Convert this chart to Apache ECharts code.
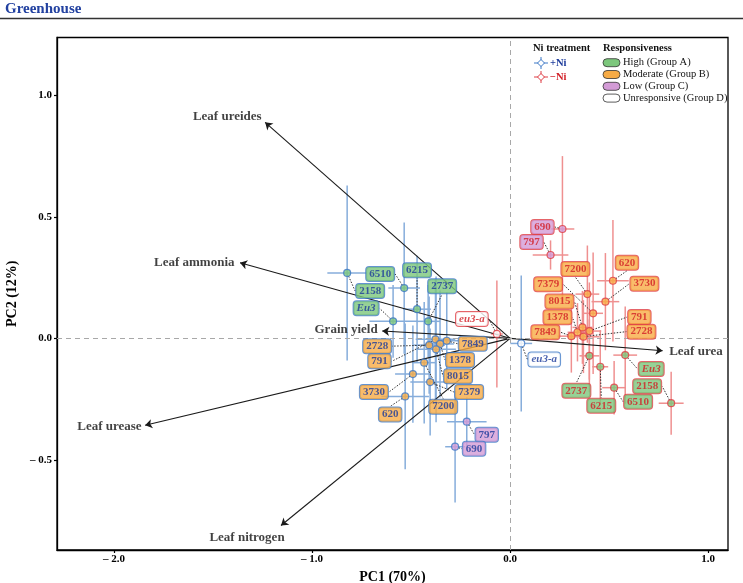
<!DOCTYPE html>
<html><head><meta charset="utf-8">
<script src="https://cdn.jsdelivr.net/npm/echarts@6/dist/echarts.min.js"></script>
<style>html,body{margin:0;padding:0;background:#fff}#c{width:743px;height:583px}</style>
</head><body><div id="c"></div>
<script>
// ---------- data ----------
const genotypes = ['2158','6510','6215','Eu3','2737','2728','791','7849','1378','8015','7379','7200','3730','620','797','690','eu3-a'];
const groups    = ['A','A','A','A','A','B','B','B','B','B','B','B','B','B','C','C','D'];

const pc1PlusNi = [-0.823,-0.535,-0.470,-0.591,-0.414,-0.409,-0.377,-0.320,-0.354,-0.374,-0.404,-0.434,-0.491,-0.530,-0.219,-0.278, 0.056];
const pc2PlusNi = [ 0.269, 0.207, 0.120, 0.070, 0.070,-0.028,-0.004,-0.010,-0.023,-0.045,-0.180,-0.100,-0.147,-0.239,-0.343,-0.446,-0.021];
const errXPlusNi = [0.10,0.08,0.07,0.12,0.06,0.08,0.10,0.06,0.07,0.10,0.10,0.06,0.09,0.12,0.10,0.05,0.055];
const errYPlusNi = [0.36,0.27,0.22,0.15,0.15,0.20,0.25,0.20,0.22,0.30,0.22,0.25,0.20,0.30,0.10,0.23,0.28];

const pc1MinusNi = [ 0.813, 0.525, 0.455, 0.581, 0.400, 0.370, 0.400, 0.309, 0.340, 0.365, 0.419, 0.390, 0.481, 0.519, 0.204, 0.264,-0.067];
const pc2MinusNi = [-0.267,-0.203,-0.117,-0.069,-0.072, 0.007, 0.030, 0.009, 0.025, 0.045, 0.103, 0.182, 0.151, 0.237, 0.343, 0.450, 0.018];
const errXMinusNi = [0.063,0.06,0.04,0.06,0.05,0.08,0.06,0.07,0.05,0.05,0.05,0.06,0.07,0.08,0.09,0.06,0.03];
const errYMinusNi = [0.13,0.11,0.15,0.20,0.15,0.15,0.20,0.15,0.12,0.15,0.25,0.20,0.20,0.25,0.06,0.30,0.22];

const loadingNames = ['Leaf urea','Leaf ureides','Leaf ammonia','Grain yield','Leaf urease','Leaf nitrogen'];
const loadingPC1 = [0.770,-1.237,-1.364,-0.646,-1.843,-1.157];
const loadingPC2 = [-0.051,0.889,0.311,0.030,-0.358,-0.770];

const xTicks = [-2, -1, 0, 1];
const yTicks = [-0.5, 0, 0.5, 1.0];

// ---------- styles (label offsets in pixels) ----------
const labelOffsetPlus  = [[23,18],[-24,-14],[0,-39],[-27,-13],[14,-35],[-52,1],[-56,22],[26,3],[20,16],[22,27],[39,10],[19,44],[-39,18],[-15,18],[20,13],[19,2],[23,16]];
const labelOffsetMinus = [[-24,-17],[24,14],[1,39],[26,14],[-13,35],[58,-5],[50,-14],[-26,-4],[-20,-15],[-23,-26],[-45,-29],[-12,-25],[39,-18],[14,-18],[-19,-13],[-20,-2],[-25,-15]];
const groupColor = {A:'#7cc77c', B:'#f7ab45', C:'#d39bd6', D:'#ffffff'};
const FONT = 'Liberation Serif, Times New Roman, serif';
const ni = {
  plus:  {bar:'#86addb', border:'#3d78c6', text:'#1d3b9b'},
  minus: {bar:'#ef9090', border:'#de3d44', text:'#d21e26'}
};

function pointSeries(name, xs, ys, offsets, sty) {
  return {
    type: 'scatter', name: name, z: 5,
    symbol: 'circle', symbolSize: 7,
    data: genotypes.map((g, i) => ({
      value: [xs[i], ys[i]],
      itemStyle: {color: groupColor[groups[i]], borderColor: sty.border, borderWidth: 1.2},
      label: {
        formatter: g,
        fontStyle: (g === 'Eu3' || g === 'eu3-a') ? 'italic' : 'normal',
        backgroundColor: groupColor[groups[i]]
      }
    })),
    label: {
      show: true, position: 'inside',
      fontFamily: FONT, fontWeight: 'bold', fontSize: 11, color: sty.text,
      borderColor: sty.border, borderWidth: 1, borderRadius: 3, padding: [2, 3, 1, 3]
    },
    labelLayout: function (p) {
      const o = offsets[p.dataIndex];
      return {x: p.rect.x + p.rect.width / 2 + o[0], y: p.rect.y + p.rect.height / 2 + o[1], align: 'center', verticalAlign: 'middle'};
    },
    labelLine: {show: true, smooth: 0.5, lineStyle: {color: '#333', width: 1, type: [1.5, 1.5]}},
    emphasis: {disabled: true}
  };
}

function errorSeries(xs, ys, exs, eys, color) {
  return {
    type: 'custom', z: 1, silent: true,
    data: xs.map((x, i) => [x, ys[i], exs[i], eys[i]]),
    renderItem: function (params, api) {
      const x = api.value(0), y = api.value(1), ex = api.value(2), ey = api.value(3);
      const l = api.coord([x - ex, y]), r = api.coord([x + ex, y]);
      const t = api.coord([x, y + ey]), b = api.coord([x, y - ey]);
      const st = {stroke: color, lineWidth: 1.5};
      return {type: 'group', children: [
        {type: 'line', shape: {x1: l[0], y1: l[1], x2: r[0], y2: r[1]}, style: st},
        {type: 'line', shape: {x1: t[0], y1: t[1], x2: b[0], y2: b[1]}, style: st}
      ]};
    }
  };
}

const loadingLabelPos = [
  {position: 'right', distance: 6, offset: [0, 1]},
  {position: 'left', distance: 3, offset: [0, -6]},
  {position: 'left', distance: 5, offset: [0, 0]},
  {position: 'left', distance: 4, offset: [0, -1]},
  {position: 'left', distance: 3, offset: [0, 1]},
  {position: 'inside', distance: 0, offset: [-34, 12]}
];

// ---------- legend (graphic) ----------
function niIcon(cx, cy, color) {
  return [
    {type: 'line', shape: {x1: cx - 7, y1: cy, x2: cx + 7, y2: cy}, style: {stroke: color, lineWidth: 1}},
    {type: 'line', shape: {x1: cx, y1: cy - 6, x2: cx, y2: cy + 6}, style: {stroke: color, lineWidth: 1}},
    {type: 'polygon', shape: {points: [[cx, cy - 3.5], [cx + 3.5, cy], [cx, cy + 3.5], [cx - 3.5, cy]]}, style: {fill: '#fff', stroke: color, lineWidth: 1}}
  ];
}
const respItems = [['High (Group A)', 'A'], ['Moderate (Group B)', 'B'], ['Low (Group C)', 'C'], ['Unresponsive (Group D)', 'D']];
const legendEls = [
  {type: 'text', x: 533, y: 48, style: {text: 'Ni treatment', font: 'bold 10.5px ' + FONT, fill: '#111', verticalAlign: 'middle'}},
  ...niIcon(541, 63, ni.plus.border),
  {type: 'text', x: 550, y: 63, style: {text: '+Ni', font: 'bold 10.5px ' + FONT, fill: ni.plus.text, verticalAlign: 'middle'}},
  ...niIcon(541, 77, ni.minus.border),
  {type: 'text', x: 550, y: 77, style: {text: '\u2212Ni', font: 'bold 10.5px ' + FONT, fill: ni.minus.text, verticalAlign: 'middle'}},
  {type: 'text', x: 603, y: 48, style: {text: 'Responsiveness', font: 'bold 10.5px ' + FONT, fill: '#111', verticalAlign: 'middle'}}
];
respItems.forEach((it, k) => {
  const cy = 62.7 + k * 11.8;
  legendEls.push({type: 'rect', shape: {x: 603, y: cy - 4, width: 17, height: 8, r: 4}, style: {fill: groupColor[it[1]], stroke: '#333', lineWidth: 0.8}});
  legendEls.push({type: 'text', x: 623, y: cy, style: {text: it[0], font: '10.5px ' + FONT, fill: '#111', verticalAlign: 'middle'}});
});

const tickFmt = v => (v < 0 ? '\u2013 ' + Math.abs(v).toFixed(1) : v.toFixed(1));

const option = {
  backgroundColor: '#fff',
  animation: false,
  title: {text: 'Greenhouse', left: 5, top: 2, padding: 0, textStyle: {fontFamily: FONT, fontWeight: 'bold', fontSize: 15, color: '#2241a0'}},
  graphic: [
    {type: 'line', shape: {x1: 0, y1: 18.5, x2: 743, y2: 18.5}, style: {stroke: '#333', lineWidth: 1.5}},
    {type: 'group', children: legendEls, z: 100}
  ],
  grid: {left: 57, right: 15, top: 37.5, bottom: 33, outerBoundsMode: 'none', containLabel: false, show: true, borderColor: '#000', borderWidth: 1.3, backgroundColor: 'transparent'},
  xAxis: {
    type: 'value', min: -2.288, max: 1.10,
    axisLine: {onZero: false, lineStyle: {color: '#000', width: 1.3}},
    axisTick: {customValues: xTicks, length: 3, lineStyle: {color: '#000', width: 1.2}},
    axisLabel: {customValues: xTicks, formatter: tickFmt, fontFamily: FONT, fontWeight: 'bold', fontSize: 11, color: '#000', margin: 4},
    splitLine: {show: false},
    name: 'PC1 (70%)', nameLocation: 'middle', nameGap: 18,
    nameTextStyle: {fontFamily: FONT, fontWeight: 'bold', fontSize: 14, color: '#000'}
  },
  yAxis: {
    type: 'value', min: -0.871, max: 1.238,
    axisLine: {onZero: false, lineStyle: {color: '#000', width: 1.3}},
    axisTick: {customValues: yTicks, length: 3, lineStyle: {color: '#000', width: 1.2}},
    axisLabel: {customValues: yTicks, formatter: tickFmt, fontFamily: FONT, fontWeight: 'bold', fontSize: 11, color: '#000', margin: 5},
    splitLine: {show: false},
    name: 'PC2 (12%)', nameLocation: 'middle', nameGap: 27,
    nameTextStyle: {fontFamily: FONT, fontWeight: 'bold', fontSize: 14, color: '#000'}
  },
  series: [
    {
      type: 'scatter', z: 0, silent: true, data: [],
      itemStyle: {color: '#a0a0a0'},
      markLine: {
        silent: true, symbol: 'none', label: {show: false},
        lineStyle: {color: '#a8a8a8', type: [5, 4], width: 1},
        emphasis: {disabled: true},
        data: [{xAxis: 0}, {yAxis: 0}]
      }
    },
    errorSeries(pc1PlusNi, pc2PlusNi, errXPlusNi, errYPlusNi, ni.plus.bar),
    errorSeries(pc1MinusNi, pc2MinusNi, errXMinusNi, errYMinusNi, ni.minus.bar),
    {
      type: 'lines', coordinateSystem: 'cartesian2d', z: 3, silent: true,
      symbol: ['none', 'arrow'], symbolSize: 7,
      lineStyle: {color: '#1a1a1a', width: 1.1, opacity: 1},
      data: loadingNames.map((n, i) => ({coords: [[0, 0], [loadingPC1[i], loadingPC2[i]]]}))
    },
    {
      type: 'scatter', z: 4, silent: true, symbolSize: 1, itemStyle: {color: 'rgba(0,0,0,0)'},
      data: loadingNames.map((n, i) => ({
        value: [loadingPC1[i], loadingPC2[i]],
        label: Object.assign({formatter: n}, loadingLabelPos[i])
      })),
      label: {show: true, fontFamily: FONT, fontWeight: 'bold', fontSize: 13, color: '#111'},
      emphasis: {disabled: true}
    },
    pointSeries('+Ni', pc1PlusNi, pc2PlusNi, labelOffsetPlus, ni.plus),
    pointSeries('\u2212Ni', pc1MinusNi, pc2MinusNi, labelOffsetMinus, ni.minus)
  ]
};
const chart = echarts.init(document.getElementById('c'), null, {renderer: 'canvas'});
chart.setOption(option);
</script>
</body></html>
